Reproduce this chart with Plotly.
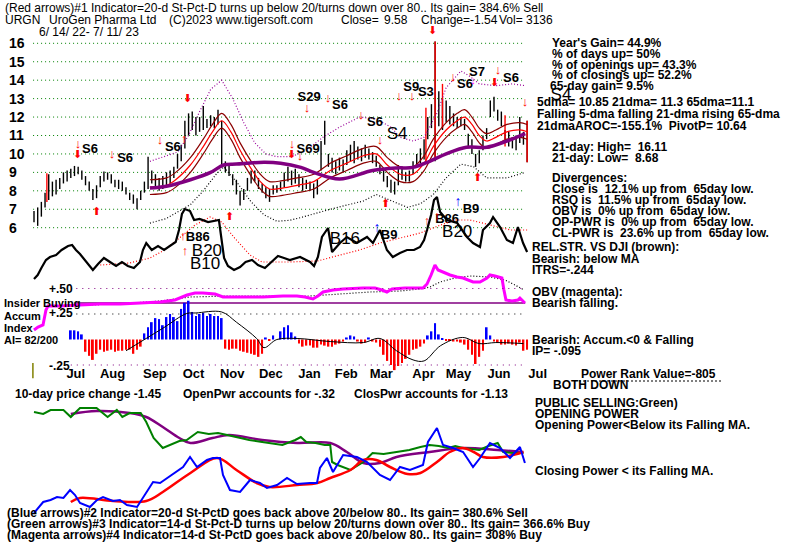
import plotly.graph_objects as go

W, H = 800, 542
DAY0_PX, PX_PER_DAY = 34.0, 1.84   # time axis layout (pixels)

# ---------------- data ----------------
months = ["Jul", "Aug", "Sep", "Oct", "Nov", "Dec", "Jan", "Feb", "Mar", "Apr", "May", "Jun", "Jul"]
month_first_day = [12, 32, 55, 76, 97, 118, 139, 159, 178, 201, 220, 242, 263]
price_ticks = [6, 7, 8, 9, 10, 11, 12, 13, 14, 15, 16]

price_x = list(range(0, 269, 2))
price_low = [6.3, 6.1, 6.6, 7.1, 7.5, 7.7, 7.8, 8.1, 8.4, 8.5,
             8.7, 8.8, 8.9, 8.6, 8.3, 8.0, 7.5, 7.6, 8.2, 8.5,
             8.6, 8.4, 8.2, 8.1, 8.0, 7.8, 7.5, 7.3, 7.0, 7.5,
             7.9, 8.1, 8.4, 8.2, 8.0, 8.1, 8.3, 8.4, 8.7, 9.2,
             9.6, 10.3, 11.0, 11.3, 11.0, 11.2, 11.3, 11.4, 11.5, 11.4,
             11.6, 9.3, 9.0, 8.8, 8.3, 7.8, 7.2, 7.5, 8.0, 8.4,
             8.5, 8.1, 7.9, 7.6, 7.4, 7.8, 7.9, 8.0, 8.2, 8.5,
             8.3, 8.4, 8.2, 8.0, 8.1, 8.0, 7.6, 7.8, 9.1, 10.5,
             9.3, 9.0, 8.9, 9.1, 9.0, 9.4, 9.6, 9.5, 9.7, 9.6,
             9.8, 9.7, 9.5, 9.3, 8.9, 8.5, 8.2, 7.9, 7.8, 8.3,
             8.6, 8.5, 8.5, 8.9, 9.3, 9.5, 9.7, 10.8, 11.4, 9.6,
             11.5, 11.3, 11.7, 11.6, 11.5, 11.4, 11.5, 11.3, 10.4, 10.0,
             9.3, 9.5, 10.2, 10.8, 12.0, 12.3, 11.8, 11.5, 10.8, 10.4,
             10.3, 10.2, 10.6, 10.5, 9.55]
price_high = [6.9, 7.1, 7.4, 7.9, 8.9, 8.5, 8.6, 8.7, 9.0, 9.1,
              9.2, 9.35, 9.3, 9.1, 8.8, 8.5, 8.1, 8.3, 8.8, 9.05,
              9.0, 8.9, 8.6, 8.6, 8.5, 8.2, 7.9, 7.8, 7.6, 8.0,
              8.5, 9.85, 9.1, 8.9, 8.7, 8.8, 9.0, 9.1, 9.3, 10.0,
              10.5, 11.8, 12.2, 12.3, 12.0, 12.0, 12.6, 11.9, 12.1, 12.0,
              12.4, 11.8, 9.6, 9.5, 8.9, 8.6, 8.0, 8.1, 8.7, 9.1,
              9.1, 8.7, 8.4, 8.2, 8.1, 8.3, 8.3, 8.5, 9.0, 9.3,
              9.1, 9.2, 8.9, 8.7, 8.6, 8.5, 8.4, 8.6, 10.7, 11.8,
              10.0, 9.8, 9.6, 9.8, 9.7, 10.2, 10.5, 10.7, 10.4, 10.3,
              10.5, 10.3, 10.1, 9.9, 9.4, 9.2, 8.8, 8.6, 8.5, 9.4,
              9.3, 9.0, 9.1, 9.6, 10.0, 10.3, 10.8, 12.0, 12.7, 16.1,
              13.4, 13.0, 12.9, 12.6, 12.2, 12.0, 12.0, 11.9, 11.1, 10.8,
              10.0, 10.2, 11.0, 11.4, 12.9, 13.1, 12.4, 12.3, 11.3, 11.2,
              10.9, 11.0, 12.0, 11.2, 11.8]
red_bar_x = [7, 213, 218, 222, 256, 268]
red_bar_low = [7.4, 9.6, 9.8, 11.4, 10.4, 9.55]
red_bar_high = [8.95, 12.5, 16.1, 13.8, 12.1, 11.8]

ma65_x = [63, 72, 85, 96, 103, 110, 125, 134, 145, 152, 166, 184, 197, 206, 215, 224, 235, 246, 257, 267]
ma65 = [8.15, 8.25, 8.6, 9.0, 9.4, 9.45, 9.55, 9.5, 9.27, 9.0, 8.64, 9.1, 9.24, 9.27, 9.6, 10.0, 10.36, 10.36, 10.7, 11.1]

ma21_x = [63, 72, 77, 85, 92, 97, 102, 107, 112, 118, 123, 128, 135, 143, 152, 161, 170, 179, 186, 192, 199,
          206, 212, 217, 224, 230, 234, 238, 242, 246, 251, 257, 264, 268]
ma21 = [8.2, 8.3, 8.6, 9.4, 10.4, 11.2, 11.8, 11.2, 10.2, 9.2, 8.5, 8.1, 8.15, 8.3, 8.5, 9.1, 9.5, 9.9, 10.0, 9.4, 8.9,
        8.9, 9.5, 10.4, 11.3, 11.8, 12.0, 11.6, 11.0, 10.7, 10.9, 11.2, 11.3, 11.2]
ma21_up = [8.6, 8.7, 9.0, 9.8, 10.8, 11.6, 12.2, 11.6, 10.6, 9.6, 8.9, 8.5, 8.55, 8.7, 8.9, 9.5, 9.9, 10.3, 10.4, 9.8, 9.3,
           9.3, 9.9, 10.8, 11.7, 12.2, 12.4, 12.0, 11.4, 11.1, 11.3, 11.6, 11.7, 11.6]
ma21_lo = [7.8, 7.9, 8.2, 9.0, 10.0, 10.8, 11.4, 10.8, 9.8, 8.8, 8.1, 7.7, 7.75, 7.9, 8.1, 8.7, 9.1, 9.5, 9.6, 9.0, 8.5,
           8.5, 9.1, 10.0, 10.9, 11.4, 11.6, 11.2, 10.6, 10.3, 10.5, 10.8, 10.9, 10.8]

band_up_x = [63, 72, 78, 84, 90, 96, 102, 108, 114, 120, 126, 132, 140, 148, 157, 166, 177, 186, 194, 199, 206,
             212, 219, 224, 232, 237, 242, 251, 260, 267]
band_up = [9.6, 9.9, 10.1, 11.0, 12.3, 13.5, 14.0, 13.0, 11.7, 10.6, 10.0, 9.85, 9.85, 10.2, 10.9, 11.45, 12.0, 11.9,
           11.45, 10.9, 10.7, 10.9, 12.2, 13.6, 14.5, 14.2, 13.8, 13.7, 13.8, 13.7]
band_lo_x = [63, 72, 85, 92, 99, 103, 110, 118, 125, 132, 139, 145, 161, 179, 186, 194, 203, 210, 217, 224, 232,
             239, 246, 257, 267]
band_lo = [6.25, 6.5, 7.25, 8.0, 8.9, 9.3, 8.5, 7.4, 6.7, 6.35, 6.4, 6.55, 7.0, 7.45, 7.8, 7.45, 7.1, 7.3, 7.8, 8.7,
           9.45, 9.3, 8.7, 8.7, 9.0]

# relative strength vs DJI and its MA
rs_x = [0, 2, 4, 6.5, 8.7, 12, 15, 18.5, 20.7, 22.8, 25, 28.3, 32, 34.8, 38, 41.3, 44.6, 47.8, 51, 54.3, 57.6, 59.2,
        61, 64, 67.4, 70.7, 74, 77, 78.8, 80.4, 82, 84.8, 87, 90, 94.6, 97.8, 100.5, 101.6, 103.3, 105.4, 108.7, 112,
        115, 118.5, 121.7, 125.5, 129.3, 132.6, 135.9, 139, 144.6, 150, 152.2, 154.3, 156.5, 159.8, 162, 166.3, 170,
        175.5, 181, 184.2, 188, 191.8, 195, 198.9, 202.7, 206.5, 209.8, 212, 213.6, 215.8, 217.4, 219, 220.7, 224.5,
        230, 235.3, 238.6, 242.4, 244, 247.8, 249.5, 253.3, 257, 260.3, 263, 265.8, 268]
rs = [0.21, 0.25, 0.32, 0.40, 0.43, 0.45, 0.50, 0.54, 0.55, 0.50, 0.46, 0.38, 0.30, 0.36, 0.42, 0.38, 0.34, 0.38,
      0.34, 0.32, 0.38, 0.50, 0.57, 0.50, 0.54, 0.50, 0.54, 0.58, 0.70, 0.86, 0.91, 0.89, 0.80, 0.81, 0.78, 0.79, 0.80,
      0.65, 0.42, 0.34, 0.30, 0.33, 0.38, 0.40, 0.35, 0.32, 0.38, 0.44, 0.42, 0.40, 0.43, 0.38, 0.34, 0.43, 0.63, 0.72,
      0.48, 0.57, 0.63, 0.57, 0.63, 0.57, 0.70, 0.50, 0.43, 0.47, 0.50, 0.50, 0.53, 0.60, 0.70, 0.85, 1.00, 1.03, 0.88,
      0.80, 0.77, 0.63, 0.57, 0.53, 0.70, 0.77, 0.83, 0.73, 0.60, 0.57, 0.73, 0.57, 0.48]
rs_ma_x = [36, 52, 63, 71, 79, 87.5, 95.7, 102, 109, 117.4, 124, 139, 154, 166, 177, 188, 199, 210, 221, 229, 237,
           248, 259, 268]
rs_ma = [0.35, 0.37, 0.42, 0.50, 0.62, 0.75, 0.83, 0.78, 0.62, 0.45, 0.38, 0.38, 0.39, 0.45, 0.50, 0.57, 0.62, 0.67,
         0.75, 0.80, 0.80, 0.75, 0.70, 0.70]

# on-balance volume (arbitrary units), its MA, insider-buying level
obv_x = [0, 2.2, 4.9, 6.5, 7.6, 14, 25, 36, 47, 57.6, 68.5, 76.6, 79.3, 83.2, 87.5, 91.8, 98.4, 102.7, 112, 124.5,
         135.3, 142.9, 147.3, 151.6, 154.3, 157.1, 162.5, 167.9, 178.8, 185.3, 189.1, 191.8, 194.6, 201.6, 211.4,
         213.6, 215.8, 217.9, 219.6, 222.3, 226.1, 229.9, 233.2, 238.6, 242.4, 246.2, 247.8, 250.5, 254.3, 255.4,
         256.5, 259.8, 263, 264.1, 265.8, 266.8]
obv = [10, 13, 15, 30, 34, 34, 35, 36, 36, 37, 38, 40, 42, 45, 47, 47, 46, 43, 43, 43, 44, 44, 43, 41, 44, 48, 50, 51,
       52, 52, 50, 48, 51, 52, 52, 56, 65, 75, 70, 68, 65, 63, 62, 58, 58, 62, 65, 64, 62, 50, 40, 39, 40, 42, 39, 37]
obv_ma_x = [25, 47, 68.5, 84.8, 106.5, 128.3, 150, 166.3, 182.6, 198.9, 209.8, 215.2, 220.7, 228.8, 237, 247.8, 256,
            261.4, 266.3]
obv_ma = [35, 36, 39, 43, 44, 44, 44, 46, 48, 49, 51, 53, 58, 62, 64, 63, 60, 55, 50]
insider_x = [22, 267]
insider_level = [37, 37]

# accumulation index
ai_x = list(range(20, 269, 2))
ai = [0.09, 0.09, 0.08, 0.05, -0.12, -0.16, -0.20, -0.14, -0.10, -0.12,
      -0.11, -0.10, -0.12, -0.11, -0.11, -0.10, -0.10, -0.14, -0.10, -0.07,
      0.06, 0.12, 0.17, 0.21, 0.20, 0.14, 0.22, 0.25, 0.22, 0.18,
      0.30, 0.36, 0.38, 0.27, 0.23, 0.25, 0.26, 0.23, 0.25, 0.23,
      0.23, 0.21, -0.09, -0.10, -0.09, -0.09, -0.11, -0.12, -0.13, -0.14,
      -0.15, -0.17, -0.14, 0.02, -0.01, 0.04, 0.00, 0.08, 0.12, 0.14,
      0.07, 0.03, -0.04, -0.07, -0.06, -0.06, -0.08, -0.08, -0.05, -0.06,
      -0.07, -0.07, -0.05, -0.04, -0.02, 0.02, 0.04, 0.03, -0.02, -0.04,
      -0.03, 0.02, -0.02, -0.03, -0.07, -0.15, -0.21, -0.25, -0.30, -0.26,
      -0.23, -0.19, -0.15, -0.10, -0.09, -0.07, -0.04, 0.04, 0.08, 0.16,
      0.05, 0.01, -0.01, -0.01, -0.02, -0.02, -0.03, -0.05, -0.10, -0.15,
      -0.24, -0.17, -0.11, 0.12, 0.04, -0.02, -0.03, -0.05, -0.05, -0.04,
      -0.05, -0.06, -0.03, -0.11, -0.10]
ai_ma_x = [50, 70, 83, 88, 102, 110, 121, 125, 132, 143, 161, 179, 188, 197, 206, 212, 221, 233, 242, 251, 266]
ai_ma = [-0.11, 0.11, 0.255, 0.26, 0.27, 0.17, 0.01, -0.08, 0.0, 0.01, -0.02, -0.03, 0.01, -0.11, -0.20, -0.21,
         -0.06, 0.02, -0.04, -0.03, -0.04]
ai_levels = [0.50, 0.25, -0.25]
ai_level_colors = ["#800080", "#000000", "#800080"]

# opening power (green) / its MA (purple); closing power (blue) / its MA (red)
op_x = [0, 5, 9, 16, 20, 25, 34, 40, 45, 48, 52, 58, 61, 65, 70, 74, 79, 83, 89, 95, 100, 105, 110, 117, 124, 130,
        135, 142, 145, 148, 153, 158, 161, 162, 165, 172, 179, 184, 190, 197, 204, 210, 215, 220, 225, 229, 233,
        238, 242, 247, 252, 255, 260, 266]
op = [108, 106, 110, 110, 103, 112, 112, 103, 110, 103, 107, 107, 98, 82, 72, 75, 79, 80, 88, 86, 87, 85, 83, 80,
      78, 76, 75, 80, 83, 78, 77, 75, 75, 58, 55, 50, 58, 67, 66, 68, 70, 73, 75, 74, 72, 74, 72, 71, 70, 74, 77,
      68, 67, 67]
op_ma_x = [20, 34, 52, 61, 70, 79, 85, 97, 106, 124, 143, 161, 170, 179, 188, 197, 215, 233, 252, 266]
op_ma = [106, 109, 107, 103, 93, 82, 77, 82, 85, 80, 77, 77, 68, 57, 57, 63, 68, 72, 70, 68]
cp_x = [0, 5, 9, 12.5, 16, 19.6, 22.3, 25, 30.4, 34.2, 37.5, 42.9, 46.7, 50.5, 56, 61.4, 64.7, 68.5, 72.3, 76.6, 81,
        84.8, 88.6, 94, 97.3, 101.1, 102.7, 106.5, 112, 117.4, 122.8, 126.6, 132.1, 137.5, 142.9, 150, 153.8, 155.4,
        159.2, 162.5, 168, 175.5, 181, 188, 193.5, 198.9, 204.3, 211.4, 214.1, 219, 222.3, 227.7, 233.2, 238.6,
        242.4, 247.8, 253.3, 258.7, 264.1, 266.8]
cp = [7, 18, 20, 23, 22, 30, 25, 17, 13, 20, 23, 19, 20, 15, 13, 28, 38, 37, 42, 47, 53, 63, 53, 60, 62, 62, 45, 30,
      28, 40, 37, 32, 35, 42, 36, 37, 37, 52, 62, 48, 65, 63, 58, 45, 40, 53, 50, 55, 78, 92, 75, 72, 68, 53, 62, 77,
      72, 62, 73, 57]
cp_ma_x = [20, 25, 43, 61, 70, 85, 99.5, 110, 121, 128, 143, 154, 161, 172, 179, 186, 193.5, 203, 210, 219, 226,
           233, 239, 244, 255, 266]
cp_ma = [18, 22, 19, 19, 28, 47, 62, 50, 37, 33, 35, 37, 42, 50, 60, 60, 53, 46, 47, 58, 68, 72, 68, 63, 63, 68]

# signal labels on the price chart
sig_text = ["S6", "S6", "S6", "S69", "S29", "S6", "S6", "S9", "S3", "S6", "S7", "S6", "B86", "B9", "B86", "B9"]
sig_x = [30.4, 49.5, 75.5, 149, 149.5, 166.3, 185.3, 205, 213, 234.2, 240.8, 259.2, 89, 193, 224.5, 237.5]
sig_y = [10.21, 9.73, 10.32, 10.21, 13.03, 12.6, 11.68, 13.58, 13.3, 13.74, 14.39, 14.06, 5.44, 5.55, 6.42, 6.96]
big_text = ["S4", "S4", "B20", "B10", "B16", "B20"]
big_x = [197.3, 286.4, 94, 93, 169, 230]
big_y = [11.03, 13.14, 4.68, 3.98, 5.33, 5.71]

dn_x = [23.9, 42.4, 68.5, 140.2, 144.6, 148.4, 159.8, 177.7, 188, 198.4, 205.4, 227.7, 252.2, 266.8]
dn_y = [10.48, 9.94, 10.70, 10.48, 9.83, 12.43, 12.97, 12.06, 10.70, 13.09, 13.09, 14.12, 14.50, 12.76]
dn_bold_x = [23.9, 83.2, 140.2, 216.8, 250.5]
dn_bold_y = [9.94, 12.97, 9.94, 16.67, 13.85]
up_x = [81.5, 81, 82.1, 213.6, 219]
up_y = [10.76, 5.5, 4.68, 6.31, 6.58]
up_bold_x = [34.2, 106.5, 190.8, 240.8]
up_bold_y = [6.85, 6.58, 7.29, 8.70]
blue_up_x = [186.4, 230.4]
blue_up_y = [5.93, 7.34]
mag_dn_x = [238.6]
mag_dn_y = [13.95]


# ---------------- helpers ----------------
def axis_range(px_ref, val_ref, px_per_unit):
    return [val_ref + (px_ref - H) / px_per_unit, val_ref + px_ref / px_per_unit]


def segments(xs, lows, highs):
    sx, sy = [], []
    for x, lo, hi in zip(xs, lows, highs):
        sx += [x, x, None]
        sy += [lo, hi, None]
    return sx, sy


def hlines(levels, x0, x1):
    sx, sy = [], []
    for v in levels:
        sx += [x0, x1, None]
        sy += [v, v, None]
    return sx, sy


fig = go.Figure()


def line(x, y, color, width, yaxis="y", dash=None, shape="linear"):
    fig.add_trace(go.Scatter(x=x, y=y, mode="lines", yaxis=yaxis, hoverinfo="skip",
                             line=dict(color=color, width=width, dash=dash, shape=shape)))


def glyphs(x, y, text, color, size, yaxis="y", bold=False):
    fig.add_trace(go.Scatter(x=x, y=y, mode="text", yaxis=yaxis, hoverinfo="skip",
                             text=text if isinstance(text, list) else [text] * len(x),
                             textposition="middle center",
                             textfont=dict(color=color, size=size,
                                           family="Liberation Sans, Arial",
                                           weight="bold" if bold else "normal")))


# --- price panel ---
gx, gy = hlines(price_ticks, -0.5, 266)
line(gx, gy, "#008000", 1, dash="1px,3px")
bx, by = segments(price_x, price_low, price_high)
line(bx, by, "black", 1.4)
rx, ry = segments(red_bar_x, red_bar_low, red_bar_high)
line(rx, ry, "red", 1.4)
line(band_up_x, band_up, "#990099", 1.2, dash="1px,2px")
line(band_lo_x, band_lo, "black", 1.2, dash="1px,2px")
line(ma21_x, ma21_up, "#8B0000", 1.2, shape="spline")
line(ma21_x, ma21, "#FF0000", 1.2, shape="spline")
line(ma21_x, ma21_lo, "#8B0000", 1.2, shape="spline")
line(ma65_x, ma65, "#800080", 3.5, shape="spline")
glyphs(sig_x, sig_y, sig_text, "black", 13, bold=True)
glyphs(big_x, big_y, big_text, "black", 17)
glyphs(dn_x, dn_y, "↓", "red", 13)
glyphs(dn_bold_x, dn_bold_y, "⬇", "red", 11)
glyphs(up_x, up_y, "↑", "red", 13)
glyphs(up_bold_x, up_bold_y, "⬆", "red", 11)
glyphs(blue_up_x, blue_up_y, "↑", "blue", 14)
glyphs(mag_dn_x, mag_dn_y, "↓", "#FF00FF", 11)

# --- relative strength ---
line(rs_ma_x, rs_ma, "red", 1.2, yaxis="y2", dash="1px,2px")
line(rs_x, rs, "black", 2.2, yaxis="y2")

# --- OBV ---
line(insider_x, insider_level, "#800080", 1.5, yaxis="y3")
line(obv_ma_x, obv_ma, "black", 1.2, yaxis="y3", dash="1px,2px")
line(obv_x, obv, "#FF00FF", 3, yaxis="y3")

# --- accumulation index ---
lx, ly = hlines(ai_levels[:1], 23, 267)
line(lx, ly, ai_level_colors[0], 1.2, yaxis="y4", dash="1px,5px")
lx, ly = hlines(ai_levels[1:2], 23, 267)
line(lx, ly, ai_level_colors[1], 1.2, yaxis="y4", dash="1px,5px")
lx, ly = hlines(ai_levels[2:], 20, 267)
line(lx, ly, ai_level_colors[2], 1.2, yaxis="y4", dash="1px,5px")
fig.add_trace(go.Bar(x=ai_x, y=ai, yaxis="y4", width=1.0, hoverinfo="skip",
                     marker=dict(color=["#0000FF" if v >= 0 else "#FF0000" for v in ai], line=dict(width=0))))
line(ai_ma_x, ai_ma, "black", 1, yaxis="y4", shape="spline")
line([-0.6, -0.6], [-0.23, -0.38], "#808000", 1.5, yaxis="y4")

# --- opening / closing power ---
line(op_ma_x, op_ma, "#800080", 2.5, yaxis="y5", shape="spline")
line(op_x, op, "#008000", 2, yaxis="y5")
line(cp_ma_x, cp_ma, "#FF0000", 2.5, yaxis="y5", shape="spline")
line(cp_x, cp, "#0000FF", 2, yaxis="y5")

# ---------------- layout ----------------
x_range = [-DAY0_PX / PX_PER_DAY, (W - DAY0_PX) / PX_PER_DAY]
hidden = dict(visible=False, overlaying="y", anchor="free", position=0, domain=[0, 1], fixedrange=True)
fig.update_layout(
    width=W, height=H, autosize=False, showlegend=False,
    margin=dict(l=0, r=0, t=0, b=0, pad=0),
    paper_bgcolor="white", plot_bgcolor="white",
    barmode="overlay", hovermode=False,
    font=dict(family="Liberation Sans, Arial", color="black"),
    xaxis=dict(range=x_range, domain=[0, 1], anchor="free", position=1 - 364 / H,
               tickvals=[d + 10.7 for d in month_first_day], ticktext=months,
               showgrid=False, zeroline=False, showline=False, ticks="",
               tickfont=dict(size=13, weight="bold", color="black")),
    yaxis=dict(range=axis_range(227.7, 6, 18.44), domain=[0, 1], anchor="free", position=0,
               tickvals=price_ticks, ticktext=[str(v) for v in price_ticks],
               ticklabelposition="inside", ticklabelstandoff=5,
               showgrid=False, zeroline=False, showline=False, ticks="",
               tickfont=dict(size=14, weight="bold", color="black")),
    yaxis2=dict(range=axis_range(300, 0, 100), **hidden),
    yaxis3=dict(range=axis_range(340, 0, 1), **hidden),
    yaxis4=dict(range=axis_range(339.5, 0, 102), **hidden),
    yaxis5=dict(range=axis_range(520, 0, 1), **hidden),
)

NB = "\u00a0"
texts = [
    # (x px, y px, text, size, bold)
    (3, 8, "(Red arrows)#1 Indicator=20-d St-Pct-D turns up below 20/turns down over 80.. Its gain= 384.6% Sell", 12, False),
    (3, 20, "URGN", 12, False),
    (47, 20, "UroGen Pharma Ltd", 12, False),
    (167, 20, "(C)2023 www.tigersoft.com", 12, False),
    (339, 20, "Close=", 12, False),
    (382, 20, "9.58", 12, False),
    (419, 20, "Change=-1.54", 12, False),
    (497, 20, "Vol= 3136", 12, False),
    (37, 32, "6/ 14/ 22- 7/ 11/ 23", 12, False),
    (550, 43, "Year's Gain= 44.9%", 12, True),
    (550, 54, "% of days up= 50%", 12, True),
    (550, 65, "% of openings up= 43.3%", 12, True),
    (550, 75, "% of closings up= 52.2%", 12, True),
    (548, 86, "65-day gain= 9.5%", 12, True),
    (535, 102, "5dma= 10.85 21dma= 11.3 65dma=11.1", 12, True),
    (535, 114, "Falling 5-dma falling 21-dma rising 65-dma", 12, True),
    (535, 126, f"21dmaAROC=-155.1%{NB} PivotP= 10.64", 12, True),
    (550, 147, f"21-day: High={NB} 16.11", 12, True),
    (550, 158, f"21-day: Low={NB} 8.68", 12, True),
    (550, 178, "Divergences:", 12, True),
    (550, 189, f"Close is{NB} 12.1% up from{NB} 65day low.", 12, True),
    (550, 200, f"RSQ is{NB} 11.5% up from{NB} 65day low.", 12, True),
    (550, 211, f"OBV is{NB} 0% up from{NB} 65day low.", 12, True),
    (550, 222, f"OP-PWR is{NB} 0% up from{NB} 65day low.", 12, True),
    (550, 233, f"CL-PWR is{NB} 23.6% up from{NB} 65day low.", 12, True),
    (530, 247, "REL.STR. VS DJI (brown):", 12, True),
    (530, 259, "Bearish: below MA", 12, True),
    (530, 270, "ITRS=-.244", 12, True),
    (530, 292, "OBV (magenta):", 12, True),
    (530, 303, "Bearish falling.", 12, True),
    (530, 340, "Bearish: Accum.<0 & Falling", 12, True),
    (530, 351, "IP= -.095", 12, True),
    (579, 374, "Power Rank Value=-805", 12, True),
    (551, 385, "BOTH DOWN", 12, True),
    (533, 403, "PUBLIC SELLING:Green)", 12, True),
    (533, 414, "OPENING POWER", 12, True),
    (533, 425, "Opening Power<Below its Falling MA.", 12, True),
    (533, 471, "Closing Power < its Falling MA.", 12, True),
    (2, 303, "Insider Buying", 11, True),
    (2, 316, "Accum", 11, True),
    (2, 328, "Index", 11, True),
    (2, 340, "AI= 82/200", 11, True),
    (47, 289, "+.50", 12, True),
    (47, 313, "+.25", 12, True),
    (47, 366, "-.25", 12, True),
    (13, 394, "10-day price change -1.45", 12, True),
    (181, 394, "OpenPwr accounts for -.32", 12, True),
    (352, 394, "ClosPwr accounts for -1.13", 12, True),
    (5, 513, "(Blue arrows)#2 Indicator=20-d St-PctD goes back above 20/below 80.. Its gain= 380.6% Sell", 12, True),
    (5, 524, "(Green arrows)#3 Indicator=14-d St-Pct-D turns up below 20/turns down over 80.. Its gain= 366.6% Buy", 12, True),
    (5, 535, "(Magenta arrows)#4 Indicator=14-d St-PctD goes back above 20/below 80.. Its gain= 308% Buy", 12, True),
]
for x, y, t, s, b in texts:
    fig.add_annotation(x=x / W, y=1 - y / H, xref="paper", yref="paper", text=t, showarrow=False,
                       xanchor="left", yanchor="middle",
                       font=dict(size=s, color="black", family="Liberation Sans, Arial",
                                 weight="bold" if b else "normal"))

fig.add_shape(type="line", xref="paper", yref="paper", x0=579 / W, x1=722 / W,
              y0=1 - 381 / H, y1=1 - 381 / H, line=dict(color="black", width=1, dash="2px,2px"))

fig.write_html("out.html")
